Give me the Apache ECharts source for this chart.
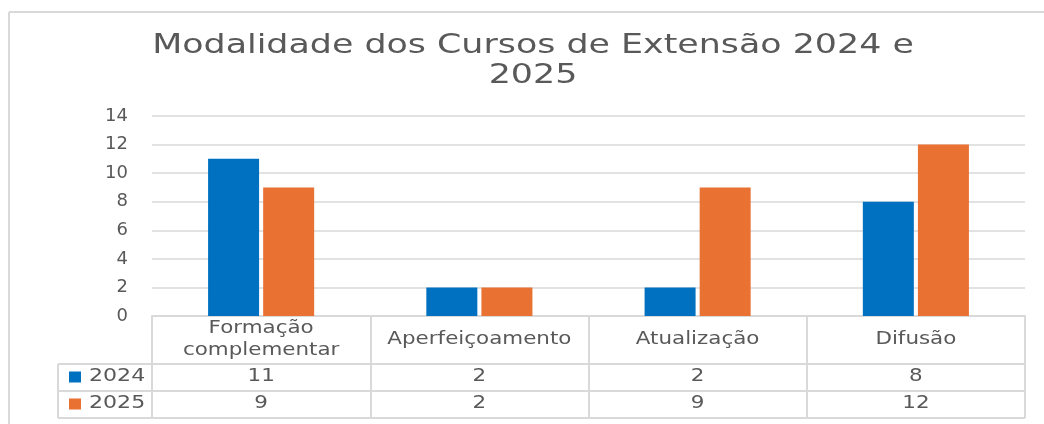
<!DOCTYPE html>
<html>
<head>
<meta charset="utf-8">
<script src="https://cdn.jsdelivr.net/npm/echarts@6/dist/echarts.min.js"></script>
<style>
  html, body { margin: 0; background: #fff; }
  #chart { width: 1044px; height: 424px; }
</style>
</head>
<body>
<div id="chart"></div>
<script>
// dados do gráfico
const categories = ['Formação\ncomplementar', 'Aperfeiçoamento', 'Atualização', 'Difusão']
const seriesNames = ['2024', '2025']
const values2024 = [11, 2, 2, 8]
const values2025 = [9, 2, 9, 12]
const yMin = 0
const yMax = 14
const yStep = 2

const titleText = 'Modalidade dos Cursos de Extensão 2024 e\n2025'
const colors = ['#0070C0', '#E97132']
const textColor = '#595959'
const lineColor = '#D9D9D9'
const font = 'DejaVu Sans'
const stretch = 1.26 // o texto original aparece esticado na horizontal

const chart = echarts.init(document.getElementById('chart'))

const option = {
  animation: false,
  color: colors,
  textStyle: { fontFamily: font },
  grid: { left: 152, right: 19, top: 116, bottom: 108 },
  xAxis: {
    type: 'category',
    data: categories,
    axisLine: { lineStyle: { color: lineColor, width: 2 } },
    axisTick: { show: true, length: 102, lineStyle: { color: lineColor, width: 2 } },
    axisLabel: { show: false },
  },
  yAxis: {
    type: 'value',
    min: yMin,
    max: yMax,
    interval: yStep,
    axisLine: { show: false },
    axisTick: { show: false },
    splitLine: { lineStyle: { color: lineColor, width: 1.5 } },
    axisLabel: { fontSize: 18, color: textColor, margin: 24, fontFamily: font },
  },
  series: [
    { name: seriesNames[0], type: 'bar', data: values2024, barWidth: 51, barGap: '8%' },
    { name: seriesNames[1], type: 'bar', data: values2025, barWidth: 51, barGap: '8%' },
  ],
}
chart.setOption(option)

function txt(x, y, text, size, sx, extra) {
  return {
    type: 'text', x: x, y: y, scaleX: sx,
    style: Object.assign({
      text: text, fill: textColor, font: size + 'px "' + font + '"',
      align: 'center', verticalAlign: 'middle',
    }, extra || {}),
  }
}

// título, moldura e tabela de dados abaixo do eixo
function drawTable() {
  const rowHeader = 340
  const rows = [377, 404]
  const line = (x1, y1, x2, y2) => ({ type: 'line', shape: { x1, y1, x2, y2 }, style: { stroke: lineColor, lineWidth: 2 } })
  const els = [
    line(9, 12, 1044, 12),
    line(9, 12, 9, 424),
    txt(533, 61, titleText, 27, 1.29, { lineHeight: 30 }),
  ]
  ;[364, 391, 418].forEach((y) => els.push(line(58, y, 1025, y)))
  els.push(line(58, 364, 58, 418))

  // legenda dentro da tabela
  seriesNames.forEach((name, r) => {
    els.push({ type: 'rect', shape: { x: 69, y: rows[r] - 5.5, width: 12, height: 11 }, style: { fill: colors[r] } })
    els.push(txt(89, rows[r], name, 17, 1.3, { align: 'left' }))
  })

  const valueRows = [values2024, values2025]
  categories.forEach((cat, i) => {
    const x = chart.convertToPixel({ xAxisIndex: 0 }, i)
    els.push(txt(x, rowHeader, cat, 17, stretch, { lineHeight: 22 }))
    valueRows.forEach((vals, r) => {
      els.push(txt(x, rows[r], String(vals[i]), 17, stretch))
    })
  })
  chart.setOption({ graphic: { elements: els } })
}
drawTable()
</script>
</body>
</html>
